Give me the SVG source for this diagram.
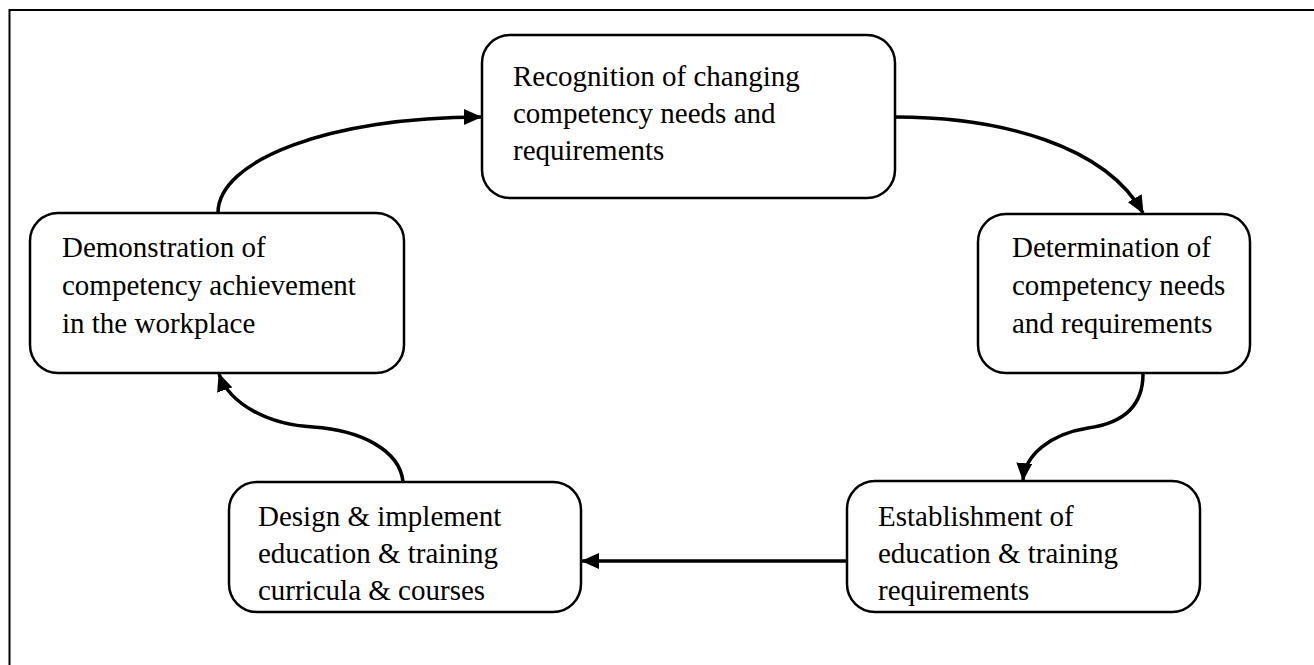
<svg xmlns="http://www.w3.org/2000/svg" width="1314" height="665" viewBox="0 0 1314 665">
<style>
.box{fill:#fff;stroke:#000;stroke-width:2.5}
.t{font-family:"Liberation Serif","Times New Roman",serif;font-size:29px;fill:#000}
.c{fill:none;stroke:#000;stroke-width:3.5}
</style>
<defs>
<marker id="ah" markerWidth="18" markerHeight="16" refX="17" refY="8" orient="auto" markerUnits="userSpaceOnUse">
<path d="M0,0 L18,8 L0,16 Z" fill="#000"/>
</marker>
</defs>
<rect x="0" y="0" width="1314" height="665" fill="#fff"/>
<rect x="9.5" y="10" width="1320" height="670" fill="none" stroke="#000" stroke-width="2"/>
<g id="connectors">
<path class="c" d="M218,213 C218,160 330,117 481,117" marker-end="url(#ah)"/>
<path class="c" d="M895,117 C1000,117 1105,145 1143,213" marker-end="url(#ah)"/>
<path class="c" d="M1143,374 C1143,415 1110,425 1088,428 C1050,434 1025,455 1023,480" marker-end="url(#ah)"/>
<path class="c" d="M847,561 L582,561" marker-end="url(#ah)"/>
<path class="c" d="M403,482 C400,450 360,430 313,427 C270,425 230,405 219,374" marker-end="url(#ah)"/>
</g>
<g id="n-recognition">
<rect class="box" x="482" y="35" width="413" height="163" rx="28"/>
<text class="t" x="513" y="86">Recognition of changing</text>
<text class="t" x="513" y="123">competency needs and</text>
<text class="t" x="513" y="160">requirements</text>
</g>
<g id="n-determination">
<rect class="box" x="978" y="214" width="272" height="159" rx="28"/>
<text class="t" x="1012" y="257">Determination of</text>
<text class="t" x="1012" y="295">competency needs</text>
<text class="t" x="1012" y="333">and requirements</text>
</g>
<g id="n-establishment">
<rect class="box" x="847" y="481" width="353" height="131" rx="28"/>
<text class="t" x="878" y="526">Establishment of</text>
<text class="t" x="878" y="563">education &amp; training</text>
<text class="t" x="878" y="600">requirements</text>
</g>
<g id="n-design">
<rect class="box" x="229" y="482" width="352" height="130" rx="28"/>
<text class="t" x="258" y="526">Design &amp; implement</text>
<text class="t" x="258" y="563">education &amp; training</text>
<text class="t" x="258" y="600">curricula &amp; courses</text>
</g>
<g id="n-demonstration">
<rect class="box" x="30" y="213" width="374" height="160" rx="28"/>
<text class="t" x="62" y="257">Demonstration of</text>
<text class="t" x="62" y="295">competency achievement</text>
<text class="t" x="62" y="333">in the workplace</text>
</g>
</svg>
